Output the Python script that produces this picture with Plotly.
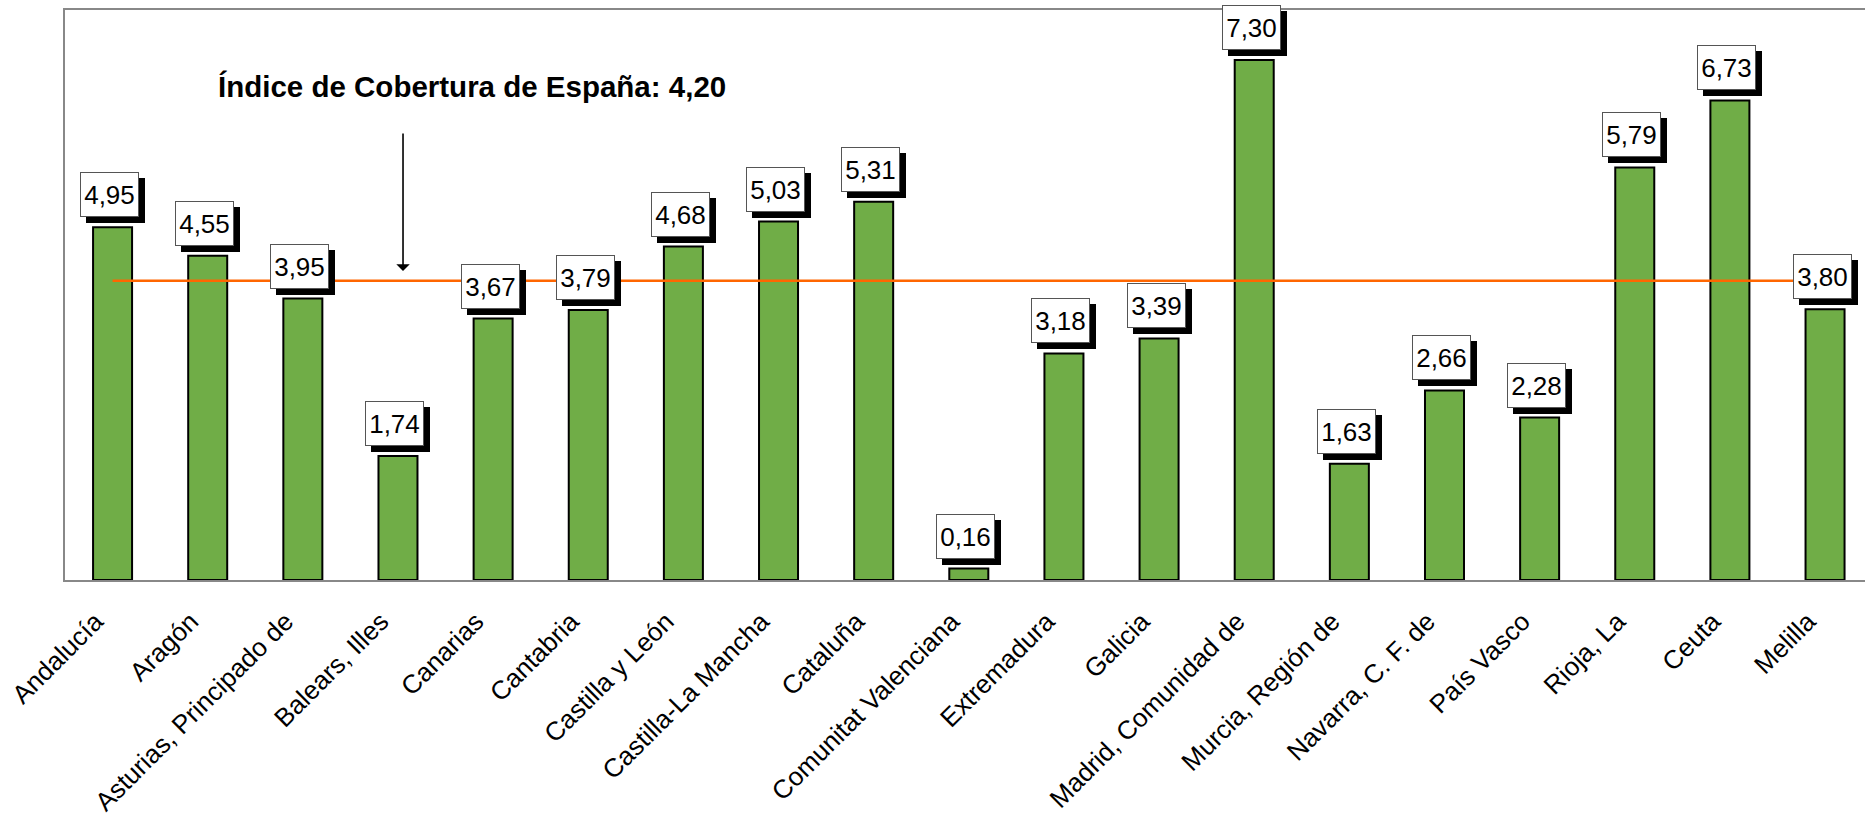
import plotly.graph_objects as go

categories = ["Andalucía", "Aragón", "Asturias, Principado de", "Balears, Illes", "Canarias",
              "Cantabria", "Castilla y León", "Castilla-La Mancha", "Cataluña",
              "Comunitat Valenciana", "Extremadura", "Galicia", "Madrid, Comunidad de",
              "Murcia, Región de", "Navarra, C. F. de", "País Vasco", "Rioja, La", "Ceuta", "Melilla"]
values = [4.95, 4.55, 3.95, 1.74, 3.67, 3.79, 4.68, 5.03, 5.31, 0.16,
          3.18, 3.39, 7.30, 1.63, 2.66, 2.28, 5.79, 6.73, 3.80]
spain_index = 4.20
spain_line = [spain_index] * len(categories)
title_text = "Índice de Cobertura de España: 4,20"

FONT = "Liberation Sans, Arial, sans-serif"

fig = go.Figure()
fig.add_trace(go.Bar(
    x=categories, y=values, width=0.41,
    marker=dict(color="#70AD47", line=dict(color="#000000", width=2)),
    hoverinfo="x+y", showlegend=False,
))
fig.add_trace(go.Scatter(
    x=categories, y=spain_line, mode="lines",
    line=dict(color="#FF6600", width=2.5), showlegend=False, hoverinfo="skip",
))

annotations = []
for c, v in zip(categories, values):
    label = f"{v:.2f}".replace(".", ",")
    # shadow
    annotations.append(dict(
        x=c, y=v, xref="x", yref="y", text=" ", showarrow=False,
        xanchor="center", yanchor="bottom", xshift=3, yshift=4,
        width=57, height=43, borderpad=0, borderwidth=1,
        bgcolor="#000000", bordercolor="#000000",
        font=dict(family=FONT, size=26, color="#000000"),
    ))
    annotations.append(dict(
        x=c, y=v, xref="x", yref="y", text=label, showarrow=False,
        xanchor="center", yanchor="bottom", xshift=-3, yshift=10,
        width=57, height=43, borderpad=0, borderwidth=1,
        bgcolor="#FFFFFF", bordercolor="#555555",
        font=dict(family=FONT, size=26, color="#000000"),
    ))

annotations.append(dict(
    x=1.088, y=6.92, xref="x", yref="y", text="<b>" + title_text + "</b>",
    showarrow=False, xanchor="left", yanchor="middle",
    font=dict(family=FONT, size=29.5, color="#000000"),
))
annotations.append(dict(
    x=3.053, y=4.336, xref="x", yref="y", text="", showarrow=True,
    ax=0, ay=-139, arrowhead=1, arrowsize=1.4, arrowwidth=1.6, arrowcolor="#000000",
    standoff=0,
))

fig.update_layout(
    width=1865, height=817,
    margin=dict(l=65, r=0, t=10, b=237, autoexpand=False),
    plot_bgcolor="#FFFFFF", paper_bgcolor="#FFFFFF",
    annotations=annotations,
    font=dict(family=FONT, color="#000000"),
    xaxis=dict(type="category", range=[-0.5, 18.42], showline=True, mirror=True,
               linecolor="#888888", linewidth=2, ticks="", tickangle=-45,
               tickfont=dict(family=FONT, size=26, color="#000000"),
               ticklabelshift=-17, ticklabelstandoff=14, automargin=False,
               showgrid=False, zeroline=False),
    yaxis=dict(range=[0, 8], showline=True, mirror=False, linecolor="#888888", linewidth=2,
               showticklabels=False, ticks="", showgrid=False, zeroline=False,
               automargin=False),
)

fig.write_html("out.html", config={"displayModeBar": False},
               post_script="document.body.style.margin='0';document.body.style.overflow='hidden';")
